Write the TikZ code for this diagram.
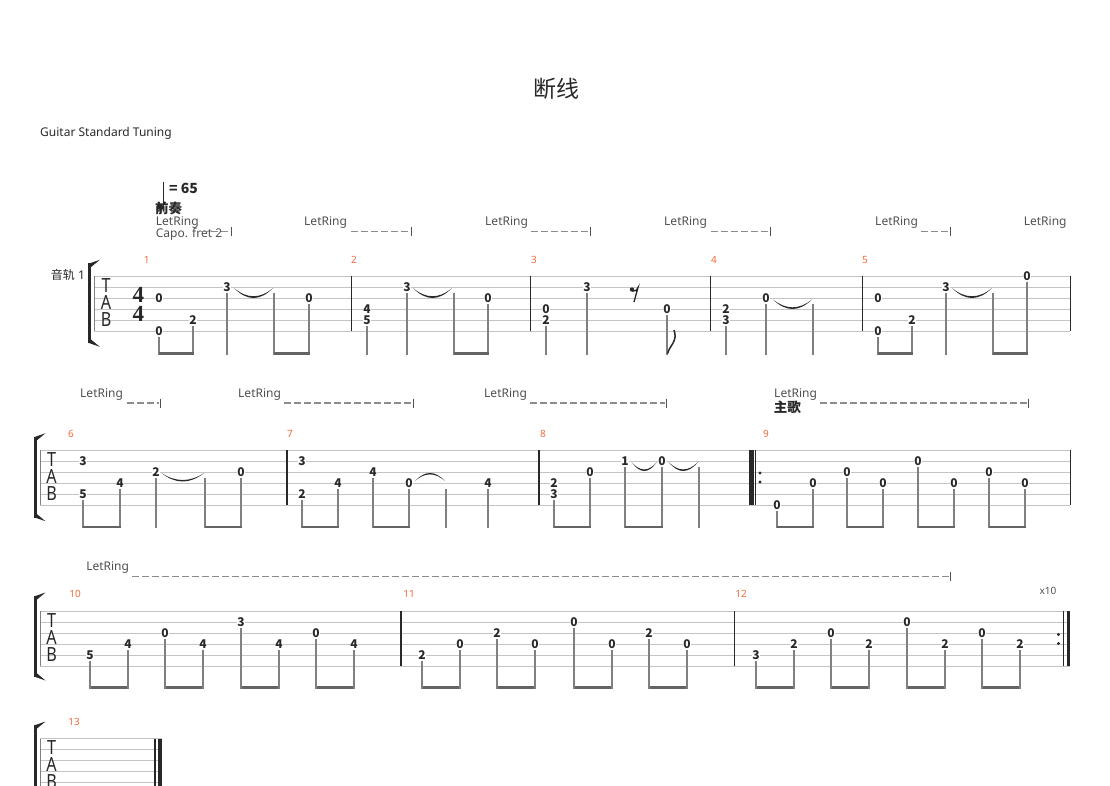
\documentclass[tikz,border=0pt]{standalone}
\usepackage{fontspec}
\setmainfont{Noto Sans}
\newfontfamily\cjk{Noto Sans CJK SC}
\newfontfamily\sigfont{Liberation Serif}
\usepackage{tikz}

\definecolor{staffgray}{RGB}{196,196,196}
\definecolor{stemgray}{RGB}{128,128,128}
\definecolor{beamgray}{RGB}{100,100,100}
\definecolor{inkdark}{RGB}{40,40,40}
\definecolor{textgray}{RGB}{80,80,80}
\definecolor{dashgray}{RGB}{140,140,140}
\definecolor{barnum}{RGB}{242,106,60}

% tie: x1, x2, y, sag (negative sag bends upwards)
\newcommand{\tiearc}[4]{%
  \fill[inkdark] (#1,#3) .. controls ({#1+(#2-#1)/3},{#3+1.33*#4}) and ({#2-(#2-#1)/3},{#3+1.33*#4}) .. (#2,#3)
    .. controls ({#2-(#2-#1)/3},{#3+1.1*#4}) and ({#1+(#2-#1)/3},{#3+1.1*#4}) .. (#1,#3) -- cycle;}

% system bracket: x, top, bottom
\newcommand{\sysbracket}[3]{%
  \fill[inkdark] (#1,#2) rectangle ({#1+2.7},#3);
  \fill[inkdark] (#1,{#2+0.5}) -- ({#1+11.5},{#2-3.5}) -- ({#1+2.7},{#2+3.8}) -- cycle;
  \fill[inkdark] (#1,{#3-0.5}) -- ({#1+11.5},{#3+3.5}) -- ({#1+2.7},{#3-3.8}) -- cycle;}

% stretched staff letters T, A, B
\newcommand{\tabchar}[1]{\scalebox{0.95}[1.15]{#1}}
\newcommand{\tabword}{\tabchar{T}\\\tabchar{A}\\\tabchar{B}}

\begin{document}
\begin{tikzpicture}[x=1pt,y=-1pt]
    \tikzstyle{staff line}=[draw=staffgray, line width=0.9pt]
    \tikzstyle{bar line}=[draw=inkdark, line width=1.1pt]
    \tikzstyle{note stem}=[draw=stemgray, line width=1.1pt]
    \tikzstyle{note beam}=[draw=beamgray, line width=2.8pt]
    \tikzstyle{fret num}=[fill=white, inner sep=0.7pt, text=inkdark, font=\cjk\fontsize{12}{12}\selectfont\bfseries]
    \tikzstyle{bar num}=[inner sep=0pt, text=barnum, font=\fontsize{10}{10}\selectfont]
    \tikzstyle{let ring}=[anchor=west, inner sep=0pt, text=textgray, font=\fontsize{12}{12}\selectfont]
    \tikzstyle{ring dash}=[draw=dashgray, line width=1.2pt, dash pattern=on 7pt off 3pt]
    \tikzstyle{ring tick}=[draw=textgray, line width=0.9pt]
    \tikzstyle{tab letter}=[inner sep=0pt, align=center, text=inkdark, font=\fontsize{17}{16.8}\selectfont]
    \tikzstyle{time sig}=[inner sep=0pt, align=center, text=inkdark, font=\sigfont\fontsize{23}{19.1}\selectfont\bfseries]
    \tikzstyle{section label}=[anchor=west, inner sep=0pt, text=inkdark, font=\cjk\fontsize{13.5}{13.5}\selectfont\bfseries]

    \useasboundingbox (0,0) rectangle (1110,785);

    % Header
    \node[font=\cjk\fontsize{23}{23}\selectfont, text=inkdark] (title) at (556,89) {断线};
    \node[let ring, text=inkdark] (tuning) at (40,133.5) {Guitar Standard Tuning};

    % Tempo, intro and capo
    \draw[line width=1pt, inkdark] (163.3,181.5) -- (163.3,206);
    \fill[inkdark, rotate around={-20:(160.3,207)}] (160.3,207) ellipse (3.8 and 2.7);
    \node[anchor=west, inner sep=0pt, text=inkdark, font=\cjk\fontsize{14}{14}\selectfont\bfseries] (tempo) at (169,188) {= 65};
    \node[section label] (intro) at (155,208) {前奏};
    \node[let ring] (lr1-155) at (155.7,222.5) {LetRing};
    \node[let ring] (capo) at (155.7,234) {Capo. fret 2};
    \draw[ring dash] (201,231.3) -- (229.5,231.3);
    \draw[ring tick] (231.3,226.8) -- (231.3,235.8);

    % LetRing marks over system 1
    \foreach \lx/\da/\db in {304/351/411, 485/530.5/590.7, 664/710.5/770.7, 875/921/950.4} {
        \node[let ring] (lr1-\lx) at (\lx,222.5) {LetRing};
        \draw[ring dash] (\da,231.3) -- ({\db-1.5},231.3);
        \draw[ring tick] (\db,226.8) -- (\db,235.8);
    }
    \node[let ring] (lr1-1024) at (1023.6,222.5) {LetRing};

    % System 1: measures 1-5
    \node[anchor=west, inner sep=0pt, text=inkdark, font=\fontsize{12}{12}\selectfont] (track) at (50.7,275) {{\cjk 音轨} 1};
    \sysbracket{88.3}{263.3}{343.3}
    \foreach \i in {0,...,5}
        \draw[staff line] (94,{276.3+11*\i}) -- (1070.3,{276.3+11*\i});
    \draw[draw=stemgray, line width=0.8pt] (94,276.3) -- (94,331.3);
    \foreach \bx in {351.7,530.7,710.4,862.1,1070.3}
        \draw[bar line] (\bx,276.3) -- (\bx,331.3);
    \node[tab letter] (tab1) at (106,302.8) {\tabword};
    \node[time sig] (sig) at (138.3,304.75) {4\\4};
    \foreach \n/\bx in {1/146.7,2/354,3/534,4/714,5/865}
        \node[bar num] (num-\n) at (\bx,260) {\n};
    \foreach \x/\s in {159/6,193/5,227/2,274/2,309/3,367/5,407/2,454/2,488/3,546/5,587/2,667/4,726/5,766/3,813/3,878/6,912/5,946/2,993/2,1027/1}
        \draw[note stem] (\x,{282.3+11*(\s-1)}) -- (\x,354.6);
    \foreach \a/\b in {159/193,274/309,454/488,878/912,993/1027}
        \draw[note beam] ({\a-0.5},353.3) -- ({\b+0.5},353.3);
    \tiearc{234}{273}{288}{10}
    \tiearc{413}{452}{288}{10}
    \tiearc{773}{812}{299.5}{9.5}
    \tiearc{952}{992}{288}{10}
    % eighth rest and flag in measure 3
    \fill[inkdark] (632,289.5) circle (2.2);
    \draw[inkdark, line width=1.3pt] (632,291) .. controls (634.5,292) and (636.5,290.5) .. (638,287.5) -- (634,302);
    \draw[inkdark, line width=1.5pt] (667.5,353.5) .. controls (670,345) and (678,341) .. (674,330);
    \foreach \x/\s/\f in {159/3/0,159/6/0,193/5/2,227/2/3,309/3/0,367/4/4,367/5/5,407/2/3,488/3/0,546/4/0,546/5/2,587/2/3,667/4/0,726/4/2,726/5/3,766/3/0,878/3/0,878/6/0,912/5/2,946/2/3,1027/1/0}
        \node[fret num] (s1-\x-\s) at (\x,{276.3+11*(\s-1)}) {\f};

    % LetRing marks over system 2
    \foreach \lx/\da/\db in {80/126.6/160, 238/284/413.8, 484/530/666.4, 774/820.3/1028.6} {
        \node[let ring] (lr2-\lx) at (\lx,394.5) {LetRing};
        \draw[ring dash] (\da,403) -- ({\db-1.5},403);
        \draw[ring tick] (\db,398.5) -- (\db,407.5);
    }
    \node[section label] (verse) at (773.7,407) {主歌};

    % System 2: measures 6-9
    \sysbracket{34}{436.7}{517.7}
    \foreach \i in {0,...,5}
        \draw[staff line] (40,{450+11*\i}) -- (1070.3,{450+11*\i});
    \draw[draw=stemgray, line width=0.8pt] (40,450) -- (40,505);
    \foreach \bx in {287,539,1070.3}
        \draw[bar line] (\bx,450) -- (\bx,505);
    \fill[inkdark] (749,450) rectangle (753.5,505);
    \draw[bar line] (755.8,450) -- (755.8,505);
    \fill[inkdark] (760,473) circle (1.6);
    \fill[inkdark] (760,482) circle (1.6);
    \node[tab letter] (tab2) at (51.5,476.3) {\tabword};
    \foreach \n/\bx in {6/71,7/290,8/543,9/766}
        \node[bar num] (num-\n) at (\bx,434) {\n};
    \foreach \x/\s in {83/5,120/4,156/3,205/3,241/3,302/5,338/4,373/3,409/4,446/4,488/4,554/5,590/3,625/2,662/2,699/2,777/6,813/4,847/3,883/4,918/2,954/4,989/3,1025/4}
        \draw[note stem] (\x,{456+11*(\s-1)}) -- (\x,528.3);
    \foreach \a/\b in {83/120,205/241,302/338,373/409,554/590,625/662,777/813,847/883,918/954,989/1025}
        \draw[note beam] ({\a-0.5},527) -- ({\b+0.5},527);
    \tiearc{161.5}{204}{473}{8.5}
    \tiearc{415}{445}{481}{-8}
    \tiearc{631.5}{657}{462}{9}
    \tiearc{668.5}{698}{462}{9}
    \foreach \x/\s/\f in {83/2/3,83/5/5,120/4/4,156/3/2,241/3/0,302/2/3,302/5/2,338/4/4,373/3/4,409/4/0,488/4/4,554/4/2,554/5/3,590/3/0,625/2/1,662/2/0,777/6/0,813/4/0,847/3/0,883/4/0,918/2/0,954/4/0,989/3/0,1025/4/0}
        \node[fret num] (s2-\x-\s) at (\x,{450+11*(\s-1)}) {\f};

    % LetRing mark over system 3
    \node[let ring] (lr3-86) at (86.1,568) {LetRing};
    \draw[ring dash] (132.2,576.5) -- (948.5,576.5);
    \draw[ring tick] (950.5,572) -- (950.5,581);

    % System 3: measures 10-12
    \sysbracket{34}{596}{677}
    \foreach \i in {0,...,5}
        \draw[staff line] (40,{611+11*\i}) -- (1070.2,{611+11*\i});
    \draw[draw=stemgray, line width=0.8pt] (40,611) -- (40,666);
    \foreach \bx in {401,734.4}
        \draw[bar line] (\bx,611) -- (\bx,666);
    \fill[inkdark] (1058.5,634.5) circle (1.6);
    \fill[inkdark] (1058.5,643.5) circle (1.6);
    \draw[bar line] (1063.5,611) -- (1063.5,666);
    \fill[inkdark] (1066.5,611) rectangle (1070.2,666);
    \node[tab letter] (tab3) at (51.5,637.3) {\tabword};
    \foreach \n/\bx in {10/75,11/409,12/741}
        \node[bar num] (num-\n) at (\bx,594) {\n};
    \node[bar num, text=textgray] (repeat) at (1048,591) {x10};
    \foreach \a/\b in {90/128,165/203,241/279,316/354,422/460,497/535,574/612,649/687,756/794,831/869,907/945,982/1020}
        \draw[note beam] ({\a-0.5},687.7) -- ({\b+0.5},687.7);
    \foreach \x/\s/\f in {90/5/5,128/4/4,165/3/0,203/4/4,241/2/3,279/4/4,316/3/0,354/4/4,422/5/2,460/4/0,497/3/2,535/4/0,574/2/0,612/4/0,649/3/2,687/4/0,756/5/3,794/4/2,831/3/0,869/4/2,907/2/0,945/4/2,982/3/0,1020/4/2} {
        \draw[note stem] (\x,{617+11*(\s-1)}) -- (\x,689);
        \node[fret num] (s3-\x-\s) at (\x,{611+11*(\s-1)}) {\f};
    }

    % System 4: measure 13
    \sysbracket{34}{725}{810}
    \foreach \i in {0,...,5}
        \draw[staff line] (40,{738.5+11*\i}) -- (162.3,{738.5+11*\i});
    \draw[draw=stemgray, line width=0.8pt] (40,738.5) -- (40,793.5);
    \draw[bar line] (155,738.5) -- (155,793.5);
    \fill[inkdark] (158.3,738.5) rectangle (162.3,793.5);
    \node[tab letter] (tab4) at (51.5,764.8) {\tabword};
    \node[bar num] (num-13) at (74,722) {13};
\end{tikzpicture}
\end{document}
